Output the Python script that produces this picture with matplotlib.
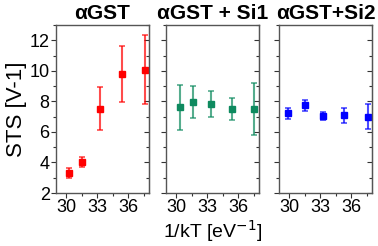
import matplotlib.pyplot as plt
import numpy as np
from matplotlib.ticker import MultipleLocator

plt.rcParams['font.family'] = ['Liberation Sans', 'DejaVu Sans']

# data
titles = ['αGST', 'αGST + Si1', 'αGST+Si2']
colors = ['#ff0000', '#0e8a5f', '#0000ff']

x_gst = [30.3, 31.5, 33.3, 35.4, 37.6]
y_gst = [3.33, 4.02, 7.53, 9.80, 10.08]
e_gst = [0.33, 0.33, 1.42, 1.85, 2.28]

x_si1 = [30.4, 31.6, 33.4, 35.4, 37.5]
y_si1 = [7.60, 7.93, 7.82, 7.49, 7.51]
e_si1 = [1.50, 1.05, 0.87, 0.74, 1.72]

x_si2 = [29.9, 31.5, 33.3, 35.3, 37.6]
y_si2 = [7.21, 7.73, 7.05, 7.08, 7.00]
e_si2 = [0.36, 0.39, 0.24, 0.47, 0.84]

series = [(x_gst, y_gst, e_gst), (x_si1, y_si1, e_si1), (x_si2, y_si2, e_si2)]

fig = plt.figure(figsize=(3.78, 2.46), dpi=100)
lefts = [56, 166, 279]
W, H = 378.0, 246.0
axes = []
for i, (xs, ys, es) in enumerate(series):
    ax = fig.add_axes([lefts[i] / W, 53 / H, 93 / W, 168 / H])
    ax.errorbar(xs, ys, yerr=es, fmt='none', ecolor=colors[i], alpha=0.7,
                elinewidth=1.5, capsize=2, capthick=1.2)
    ax.plot(xs, ys, 's', color=colors[i], markersize=4.5)
    ax.set_xlim(29, 38)
    ax.set_ylim(2, 13)
    ax.xaxis.set_major_locator(MultipleLocator(3))
    ax.xaxis.set_minor_locator(MultipleLocator(1.5))
    ax.yaxis.set_major_locator(MultipleLocator(2))
    ax.yaxis.set_minor_locator(MultipleLocator(1))
    ax.tick_params(which='major', length=3.5)
    ax.tick_params(which='minor', length=2)
    ax.tick_params(which='both', direction='out', width=0.8,
                   colors='#333333', labelcolor='black', labelsize=13, pad=1)
    ax.tick_params(axis='y', which='both', labelleft=(i == 0))
    # inward ticks on the right side
    sec = ax.secondary_yaxis('right')
    sec.yaxis.set_major_locator(MultipleLocator(2))
    sec.yaxis.set_minor_locator(MultipleLocator(1))
    sec.tick_params(which='both', direction='in', width=0.8, colors='#333333',
                    labelright=False)
    sec.tick_params(which='major', length=3.5)
    sec.tick_params(which='minor', length=2)
    sec.spines['right'].set_color('#555555')
    for s in ax.spines.values():
        s.set_color('#555555')
        s.set_linewidth(1.0)
    ax.set_title(titles[i], fontsize=15, fontweight='bold', pad=4)
    axes.append(ax)

axes[0].set_ylabel('STS [V-1]', fontsize=16, labelpad=2)
axes[1].set_xlabel('1/kT [eV$^{-1}$]', fontsize=14, labelpad=1)

plt.savefig('out.png', dpi=100)
